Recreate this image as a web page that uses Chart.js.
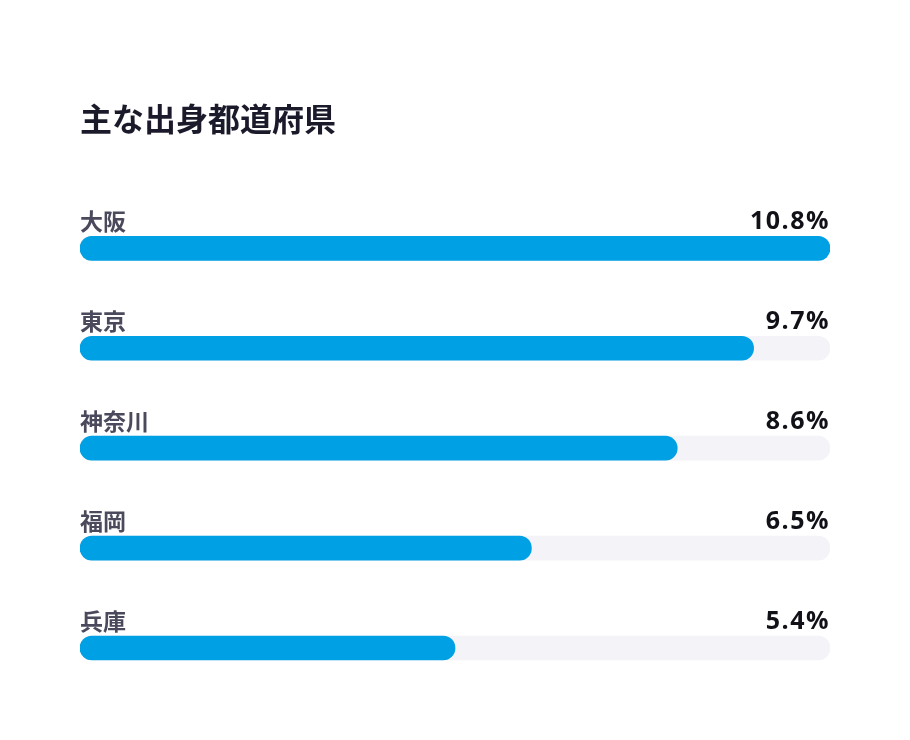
<!DOCTYPE html>
<html lang="ja">
<head>
<meta charset="utf-8">
<script src="https://cdn.jsdelivr.net/npm/chart.js@4/dist/chart.umd.min.js"></script>
<style>
  html, body { margin: 0; padding: 0; background: #fff; }
  #wrap { width: 910px; height: 740px; }
</style>
</head>
<body>
<div id="wrap"><canvas id="canvas"></canvas></div>
<script>
const prefectures = ['大阪', '東京', '神奈川', '福岡', '兵庫'];
const shares = [10.8, 9.7, 8.6, 6.5, 5.4];
const maxShare = 10.8;
const trackValues = prefectures.map(() => maxShare);

// labels above each bar: name on the left, percent on the right
const barLabels = {
  id: 'barLabels',
  afterDatasetsDraw(chart) {
    const ctx = chart.ctx;
    const area = chart.chartArea;
    const meta = chart.getDatasetMeta(0);
    ctx.save();
    ctx.textBaseline = 'middle';
    meta.data.forEach((bar, i) => {
      const y = bar.y - 27;
      ctx.textAlign = 'left';
      ctx.fillStyle = '#4a4a5c';
      ctx.font = 'bold 23px "Noto Sans CJK JP", "Noto Sans", sans-serif';
      ctx.letterSpacing = '0px';
      ctx.fillText(prefectures[i], area.left, y);
      ctx.textAlign = 'right';
      ctx.fillStyle = '#111118';
      ctx.font = 'bold 25px "Open Sans", sans-serif';
      ctx.letterSpacing = '1.5px';
      ctx.fillText(shares[i].toFixed(1) + '%', area.right, y + 1);
    });
    ctx.restore();
  }
};

new Chart(document.getElementById('canvas').getContext('2d'), {
  type: 'bar',
  data: {
    labels: prefectures,
    datasets: [{
      label: '割合',
      data: shares,
      backgroundColor: '#00a0e4',
      barThickness: 24,
      borderRadius: 12,
      borderSkipped: false,
      order: 1
    }, {
      label: 'track',
      data: trackValues,
      backgroundColor: '#f3f3f8',
      barThickness: 24,
      borderRadius: 12,
      borderSkipped: false,
      order: 2
    }]
  },
  options: {
    indexAxis: 'y',
    responsive: true,
    maintainAspectRatio: false,
    animation: false,
    layout: { padding: { left: 80, right: 80, top: 0, bottom: 42 } },
    datasets: { bar: { grouped: false } },
    plugins: {
      legend: { display: false },
      tooltip: { enabled: false },
      title: {
        display: true,
        text: '主な出身都道府県',
        align: 'start',
        color: '#1a1a2a',
        font: { family: '"Noto Sans CJK JP", sans-serif', size: 32, weight: 'bold', lineHeight: 1.2 },
        padding: { top: 100, bottom: 60 }
      }
    },
    scales: {
      x: { display: false, min: 0, max: maxShare },
      y: { display: false }
    }
  },
  plugins: [barLabels]
});
</script>
</body>
</html>
